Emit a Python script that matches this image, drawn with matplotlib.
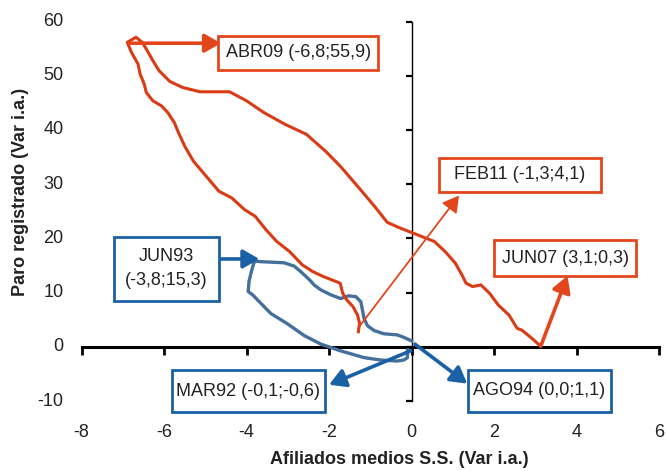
import matplotlib
matplotlib.use('Agg')
import matplotlib.pyplot as plt
import matplotlib.transforms as mtransforms
from matplotlib.patches import Rectangle

plt.rcParams['font.family'] = ['Liberation Sans', 'DejaVu Sans']

# ciclo 2007-2011: JUN07 -> ABR09 -> FEB11
red_x = [3.1, 2.92, 2.67, 2.56, 2.36, 2.10, 1.89, 1.68, 1.48, 1.32, 1.22, 1.06,
         0.81, 0.55, 0.34, 0.03, -0.28, -0.59, -0.90, -1.31, -1.73, -2.09,
         -2.55, -3.07, -3.58, -4.00, -4.41, -5.13, -5.55, -5.86, -6.12, -6.27,
         -6.43, -6.53, -6.68, -6.89, -6.79, -6.63, -6.58, -6.48, -6.43, -6.27,
         -6.06, -5.91, -5.75, -5.65, -5.50, -5.29, -4.98, -4.67, -4.36, -4.05,
         -3.79, -3.53, -3.27, -2.96, -2.65, -2.40, -2.14, -1.83, -1.73, -1.67,
         -1.57, -1.42, -1.31, -1.26, -1.29]
red_y = [0.3, 1.54, 3.09, 3.40, 5.86, 7.72, 9.88, 11.42, 11.11, 11.73, 13.27,
         15.43, 17.59, 19.44, 20.06, 20.99, 21.91, 22.96, 25.93, 29.63, 33.33,
         36.11, 39.20, 41.05, 43.21, 45.37, 47.04, 47.04, 47.84, 48.95, 50.93,
         52.78, 54.94, 56.17, 57.1, 56.17, 54.32, 52.16, 50.31, 48.46, 46.91,
         45.37, 44.44, 43.21, 41.36, 39.51, 37.04, 34.26, 31.48, 28.70, 27.47,
         25.31, 24.07, 21.60, 19.44, 17.59, 15.12, 13.89, 12.96, 12.04, 11.73,
         9.88, 8.64, 7.41, 5.86, 4.32, 2.78]

# ciclo 1992-1994: MAR92 -> JUN93 -> AGO94
blue_x = [-0.1, -0.10, -0.19, -0.35, -0.75, -1.15, -1.72, -2.20, -2.60, -3.01,
          -3.41, -3.65, -3.85, -3.96, -3.94, -3.88, -3.83, -3.80, -3.65, -3.09,
          -2.85, -2.69, -2.48, -2.36, -2.20, -1.96, -1.72, -1.52, -1.35, -1.23,
          -1.19, -1.15, -1.07, -0.91, -0.67, -0.35, -0.19, 0.0]
blue_y = [-0.6, -2.0, -2.44, -2.63, -2.44, -2.0, -0.75, 0.5, 2.06, 4.25, 6.13,
          8.0, 9.56, 10.19, 12.06, 13.94, 15.3, 15.8, 15.7, 15.5, 14.9, 13.9,
          12.4, 11.4, 10.5, 9.6, 8.9, 9.4, 9.25, 8.3, 6.75, 5.2, 3.9, 3.0, 2.4,
          2.2, 1.75, 1.1]

xticks = [-8, -6, -4, -2, 0, 2, 4, 6]
yticks = [-10, 0, 10, 20, 30, 40, 50, 60]

red = '#DA3B14'
red_box = '#E4461C'
blue_line = '#46709C'
blue = '#1A60A4'

# etiqueta, centro de la caja, tamano caja (px), origen y punta de la flecha, color, grosor flecha
labels = [
    ('ABR09 (-6,8;55,9)', (-2.75, 54.2), (160, 34), (-6.84, 56.0), (-4.62, 56.0), red_box, 2.6),
    ('FEB11 (-1,3;4,1)', (2.62, 31.7), (162, 34), (-1.26, 3.8), (1.15, 27.9), red_box, 1.3),
    ('JUN07 (3,1;0,3)', (3.72, 16.3), (142, 36), (3.13, 0.1), (3.78, 13.1), red_box, 2.6),
    ('JUN93\n(-3,8;15,3)', (-5.94, 14.4), (105, 64), (-4.62, 16.2), (-3.69, 16.2), blue, 2.6),
    ('MAR92 (-0,1;-0,6)', (-3.96, -8.2), (153, 42), (-0.02, -0.74), (-2.0, -7.0), blue, 2.6),
    ('AGO94 (0,0;1,1)', (3.09, -8.1), (143, 42), (0.08, 0.5), (1.35, -6.8), blue, 2.6),
]

fig = plt.figure(figsize=(6.67, 4.71), dpi=100)
ax = fig.add_axes([0.1222, 0.1486, 0.866, 0.8057])
ax.set_xlim(-8, 6)
ax.set_ylim(-10, 60)

ax.plot(blue_x, blue_y, color=blue_line, lw=2.4, solid_joinstyle='round', zorder=3)
ax.plot(red_x, red_y, color=red, lw=2.2, solid_joinstyle='round', zorder=4)

for text, (tx, ty), (bw, bh), tail, tip, col, lw in labels:
    ax.annotate('', xy=tip, xytext=tail,
                arrowprops=dict(arrowstyle='-|>,head_length=0.7,head_width=0.4',
                                color=col, lw=lw, mutation_scale=14,
                                shrinkA=0, shrinkB=0), zorder=5)
    # caja de tamano fijo centrada en el punto
    trans = fig.dpi_scale_trans + mtransforms.ScaledTranslation(tx, ty, ax.transData)
    w, h = bw / fig.dpi, bh / fig.dpi
    ax.add_patch(Rectangle((-w / 2, -h / 2), w, h, transform=trans, fc='white',
                           ec=col, lw=2, zorder=6, clip_on=False))
    ax.text(tx, ty, text, ha='center', va='center', fontsize=13, color='#222222',
            linespacing=1.55, zorder=7)

ax.spines['left'].set_position(('data', 0))
ax.spines['bottom'].set_position(('data', 0))
ax.spines['top'].set_visible(False)
ax.spines['right'].set_visible(False)
ax.spines['bottom'].set_linewidth(2.2)
ax.spines['left'].set_linewidth(1.0)
ax.set_xticks(xticks)
ax.set_yticks(yticks)
ax.tick_params(axis='x', direction='out', length=6, width=2, labelbottom=False)
ax.tick_params(axis='y', direction='out', length=4, width=1.6, labelleft=False)

for v in xticks:
    ax.text(v, -0.082, str(v), transform=ax.get_xaxis_transform(),
            ha='center', va='center', fontsize=13, color='#222222')
for v in yticks:
    ax.text(-0.031, v, str(v), transform=ax.get_yaxis_transform(),
            ha='right', va='center', fontsize=13, color='#222222')

ax.text(0.55, -0.155, 'Afiliados medios S.S. (Var i.a.)', transform=ax.transAxes,
        ha='center', va='center', fontsize=13, fontweight='bold', color='#222222')
ax.text(-0.105, 0.55, 'Paro registrado (Var i.a.)', transform=ax.transAxes,
        ha='center', va='center', rotation=90, fontsize=13, fontweight='bold',
        color='#222222')

fig.savefig('out.png', dpi=100)
